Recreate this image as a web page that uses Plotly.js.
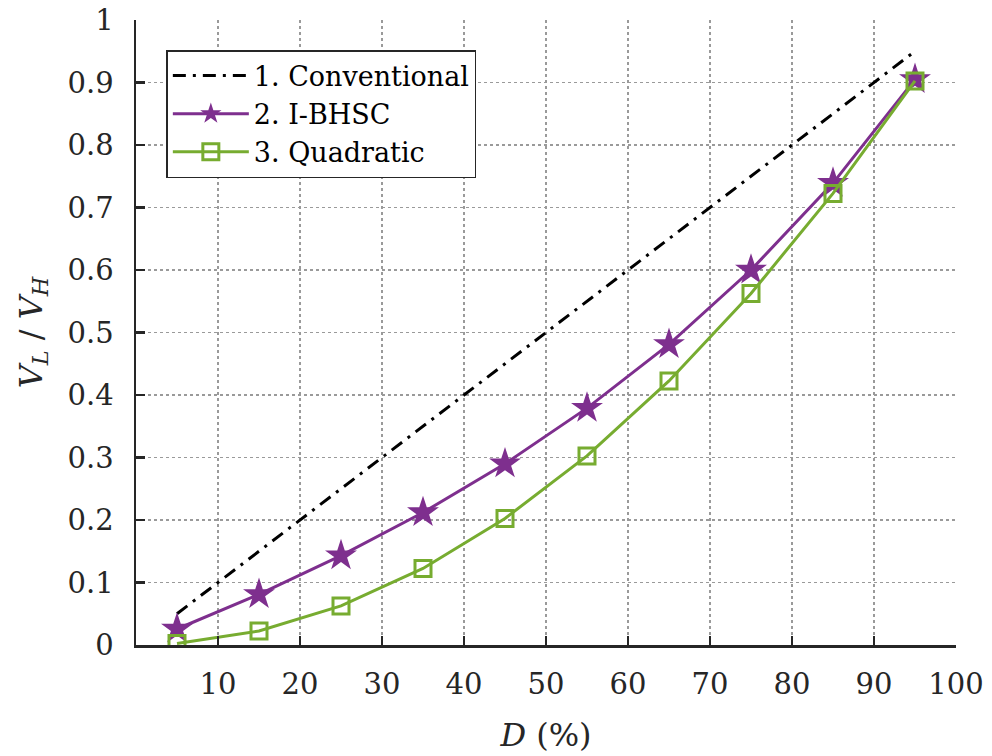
<!DOCTYPE html>
<html><head><meta charset="utf-8">
<script src="https://cdn.plot.ly/plotly-3.0.1.min.js"></script>
<style>body{margin:0;background:#fff}#c{width:992px;height:756px}</style>
</head><body><div id="c"></div>
<script>
const dutyConv = [5, 95];
const convVals = [0.05, 0.95];
const duty = [5, 15, 25, 35, 45, 55, 65, 75, 85, 95];
const ibhscVals = [0.0256, 0.081, 0.143, 0.212, 0.290, 0.379, 0.481, 0.600, 0.739, 0.905];
const quadVals = [0.0025, 0.0225, 0.0625, 0.1225, 0.2025, 0.3025, 0.4225, 0.5625, 0.7225, 0.9025];
const xTicks = [10, 20, 30, 40, 50, 60, 70, 80, 90, 100];
const yTicks = [0, 0.1, 0.2, 0.3, 0.4, 0.5, 0.6, 0.7, 0.8, 0.9, 1];
const names = ['1. Conventional', '2. I-BHSC', '3. Quadratic'];

const font = 'DejaVu Serif';
const traces = [
  {x: dutyConv, y: convVals, name: names[0], mode: 'lines',
   line: {color: '#000000', width: 3, dash: '13px,7px,3px,7px'}},
  {x: duty, y: ibhscVals, name: names[1], mode: 'lines+markers',
   line: {color: '#7E2F8E', width: 3},
   marker: {symbol: 'star', size: 24, color: '#7E2F8E', line: {width: 0}}},
  {x: duty, y: quadVals, name: names[2], mode: 'lines+markers',
   line: {color: '#77AC30', width: 3},
   marker: {symbol: 'square-open', size: 16, color: '#77AC30', line: {width: 3, color: '#77AC30'}}}
];
const gridStyle = {showgrid: true, gridcolor: '#9a9a9a', griddash: 'dot', gridwidth: 1.5};
const layout = {
  width: 992, height: 756,
  margin: {l: 136, r: 36, t: 20, b: 111},
  paper_bgcolor: '#fff', plot_bgcolor: '#fff',
  font: {family: font, size: 29, color: '#262626'},
  showlegend: true,
  legend: {x: 0.037, y: 0.952, xanchor: 'left', yanchor: 'top',
    bgcolor: '#fff', bordercolor: '#262626', borderwidth: 1.5,
    font: {family: font, size: 27, color: '#000'}, tracegroupgap: 0, itemwidth: 76},
  xaxis: Object.assign({range: [0, 100], tickmode: 'array', tickvals: xTicks,
    ticks: 'inside', ticklen: 9, tickwidth: 2.5, tickcolor: '#262626',
    showline: true, linecolor: '#262626', linewidth: 2.5, zeroline: false,
    ticklabelstandoff: 12, tickfont: {family: font, size: 29},
    title: {text: '<i>D</i> (%)', font: {family: font, size: 32, color: '#262626'}, standoff: 24}}, gridStyle),
  yaxis: Object.assign({range: [0, 1], tickmode: 'array', tickvals: yTicks,
    ticks: 'inside', ticklen: 9, tickwidth: 2.5, tickcolor: '#262626',
    showline: true, linecolor: '#262626', linewidth: 2.5, zeroline: false,
    ticklabelstandoff: 14, tickfont: {family: font, size: 29},
    title: {text: '<i>V</i><sub><i>L</i></sub> / <i>V</i><sub><i>H</i></sub>', font: {family: font, size: 32, color: '#262626'}, standoff: 16}}, gridStyle)
};
Plotly.newPlot('c', traces, layout, {displayModeBar: false, staticPlot: true});
</script></body></html>
